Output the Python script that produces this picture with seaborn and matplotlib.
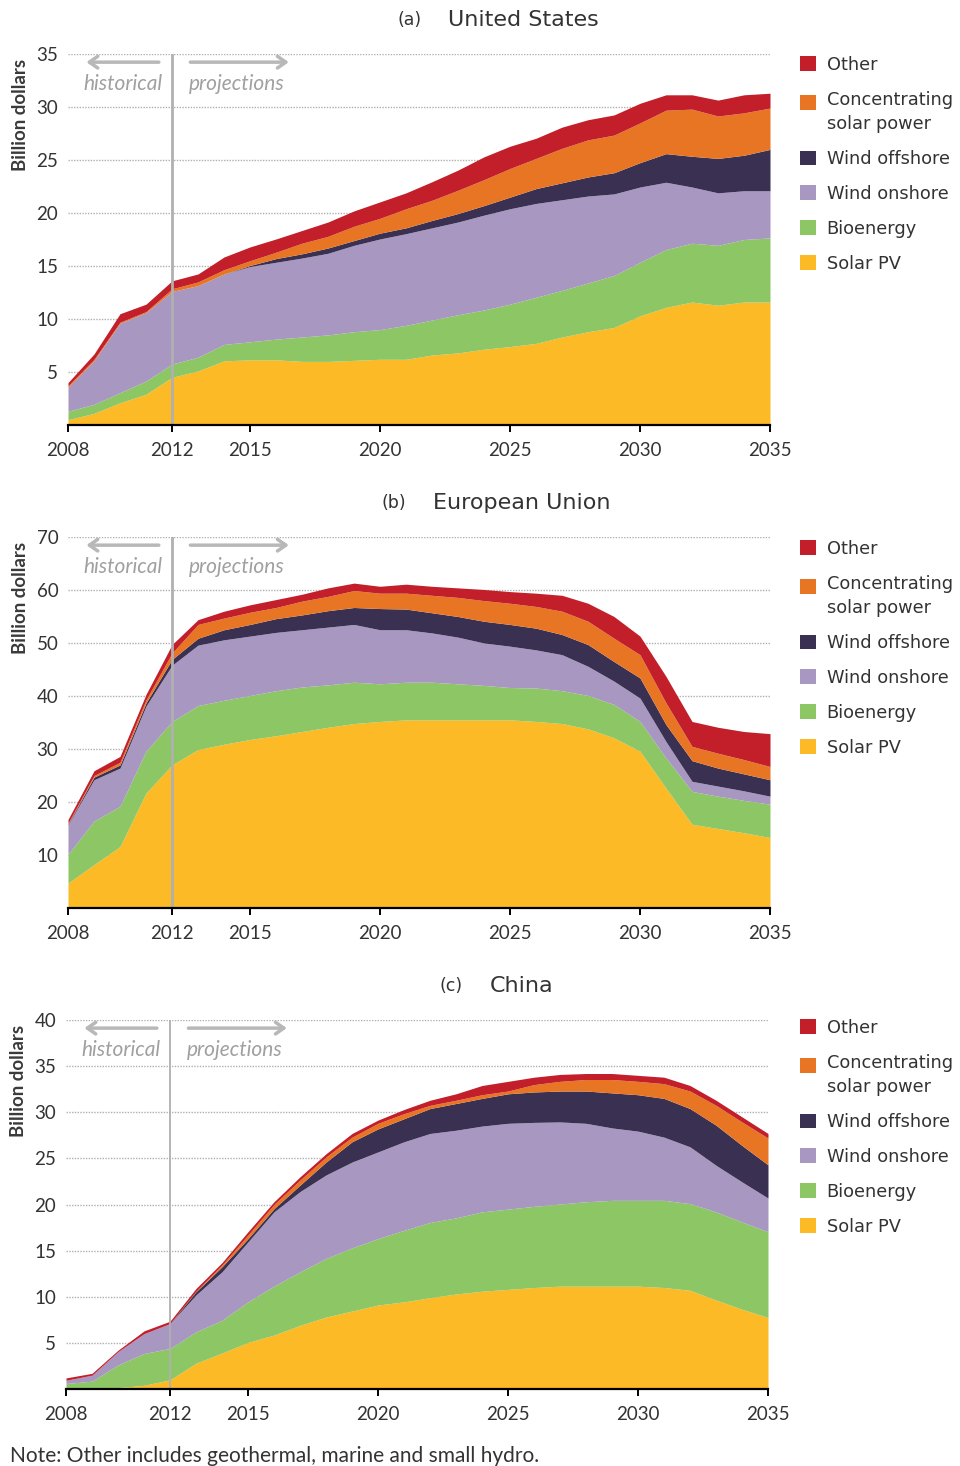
import numpy as np
import pandas as pd
import matplotlib
matplotlib.use("Agg")
import matplotlib.pyplot as plt
from matplotlib.patches import Patch, Rectangle
from matplotlib.legend_handler import HandlerPatch
import seaborn as sns

years = list(range(2008, 2036))
series_names = ["Solar PV", "Bioenergy", "Wind onshore", "Wind offshore",
                "Concentrating\nsolar power", "Other"]
colors = ["#FBBA26", "#8CC665", "#A897C0", "#3A3152", "#E87524", "#C31F2A"]

# ---- United States (billion dollars) ----
us_solar = [0.5, 1.1, 2.1, 2.9, 4.5, 5.1, 6.05, 6.15, 6.15, 6.0, 6.0, 6.1, 6.2, 6.2,
            6.6, 6.8, 7.15, 7.4, 7.7, 8.3, 8.8, 9.2, 10.3, 11.1, 11.6, 11.3, 11.6, 11.6]
us_bio = [0.8, 0.85, 0.95, 1.25, 1.25, 1.3, 1.55, 1.7, 1.95, 2.3, 2.5, 2.7, 2.8, 3.2,
          3.3, 3.6, 3.7, 4.0, 4.35, 4.4, 4.6, 4.9, 5.05, 5.45, 5.55, 5.65, 5.9, 6.05]
us_onshore = [2.25, 4.1, 6.55, 6.45, 6.85, 6.75, 6.65, 7.1, 7.25, 7.45, 7.7, 8.15, 8.55, 8.65,
              8.7, 8.75, 8.95, 9.0, 8.85, 8.55, 8.2, 7.7, 7.1, 6.35, 5.3, 4.95, 4.6, 4.45]
us_offshore = [0, 0, 0, 0, 0, 0, 0, 0.1, 0.35, 0.4, 0.5, 0.45, 0.55, 0.55,
               0.7, 0.8, 0.9, 1.1, 1.4, 1.6, 1.8, 2.0, 2.3, 2.7, 2.9, 3.25, 3.35, 3.9]
us_csp = [0.15, 0.15, 0.1, 0.1, 0.25, 0.35, 0.4, 0.45, 0.6, 1.0, 1.1, 1.35, 1.4, 1.8,
          1.9, 2.2, 2.45, 2.7, 2.85, 3.25, 3.5, 3.55, 3.75, 4.1, 4.45, 4.0, 4.0, 3.9]
us_other = [0.3, 0.5, 0.8, 0.7, 0.75, 0.75, 1.2, 1.3, 1.25, 1.2, 1.35, 1.45, 1.55, 1.5,
            1.75, 1.9, 2.15, 2.1, 1.9, 2.0, 1.9, 1.9, 1.85, 1.45, 1.35, 1.5, 1.7, 1.4]

# ---- European Union ----
eu_solar = [4.7, 8.2, 11.6, 21.7, 27.0, 29.9, 30.9, 31.8, 32.5, 33.3, 34.1, 34.8, 35.2, 35.5,
            35.5, 35.5, 35.5, 35.5, 35.2, 34.8, 33.8, 32.1, 29.6, 22.6, 15.8, 15.0, 14.2, 13.3]
eu_bio = [5.4, 8.2, 7.6, 7.9, 8.2, 8.3, 8.3, 8.3, 8.5, 8.4, 8.0, 7.8, 7.1, 7.1,
          7.1, 6.8, 6.5, 6.1, 6.3, 6.2, 6.3, 6.3, 5.6, 5.7, 6.2, 6.1, 6.1, 6.3]
eu_onshore = [5.6, 7.8, 7.2, 8.5, 10.6, 11.4, 11.4, 11.2, 11.0, 10.8, 10.9, 10.9, 10.2, 9.9,
              9.3, 8.8, 8.0, 7.8, 7.2, 6.8, 5.5, 4.4, 4.4, 3.1, 1.9, 1.9, 1.8, 1.5]
eu_offshore = [0.15, 0.5, 0.6, 0.6, 1.1, 1.3, 1.9, 2.2, 2.6, 2.8, 3.1, 3.2, 4.0, 3.9,
               3.8, 3.9, 4.1, 4.1, 4.1, 3.8, 4.1, 3.7, 3.8, 3.2, 3.9, 3.4, 3.2, 3.1]
eu_csp = [0.15, 0.3, 0.5, 0.6, 1.2, 2.6, 2.2, 2.3, 2.1, 2.6, 2.7, 3.2, 2.9, 3.0,
          3.3, 3.6, 3.9, 4.0, 4.1, 4.4, 4.4, 4.4, 4.4, 4.1, 2.7, 2.8, 2.7, 2.5]
eu_other = [0.7, 0.9, 1.1, 1.0, 1.6, 0.9, 1.3, 1.4, 1.5, 1.3, 1.6, 1.4, 1.3, 1.7,
            1.7, 1.8, 2.1, 2.2, 2.5, 3.0, 3.4, 4.1, 3.5, 5.0, 4.7, 4.9, 5.3, 6.2]

# ---- China ----
cn_solar = [0.05, 0.05, 0.15, 0.4, 1.0, 2.8, 3.9, 5.05, 5.85, 6.9, 7.8, 8.45, 9.1, 9.45,
            9.9, 10.3, 10.6, 10.8, 11.0, 11.15, 11.15, 11.15, 11.15, 11.0, 10.7, 9.65, 8.65, 7.75]
cn_bio = [0.55, 0.8, 2.45, 3.45, 3.4, 3.4, 3.55, 4.4, 5.3, 5.8, 6.35, 6.85, 7.2, 7.75,
          8.15, 8.25, 8.6, 8.7, 8.8, 8.9, 9.15, 9.3, 9.3, 9.45, 9.4, 9.55, 9.45, 9.3]
cn_onshore = [0.35, 0.65, 1.45, 2.15, 2.7, 4.0, 5.25, 6.5, 8.05, 8.7, 9.05, 9.3, 9.4, 9.6,
              9.65, 9.5, 9.3, 9.3, 9.1, 8.9, 8.5, 7.85, 7.5, 6.85, 6.15, 5.05, 4.35, 3.65]
cn_offshore = [0, 0, 0, 0, 0, 0.35, 0.55, 0.35, 0.35, 0.7, 1.4, 2.2, 2.5, 2.5,
               2.7, 2.9, 3.0, 3.2, 3.3, 3.35, 3.5, 3.8, 3.95, 4.2, 4.15, 4.35, 3.95, 3.6]
cn_csp = [0, 0, 0, 0, 0, 0.05, 0.2, 0.4, 0.45, 0.55, 0.55, 0.5, 0.6, 0.55,
          0.35, 0.35, 0.4, 0.3, 0.8, 1.05, 1.25, 1.45, 1.45, 1.6, 1.9, 2.15, 2.55, 2.9]
cn_other = [0.25, 0.2, 0.15, 0.3, 0.25, 0.3, 0.25, 0.35, 0.3, 0.35, 0.35, 0.4, 0.35, 0.45,
            0.55, 0.7, 1.0, 1.05, 0.8, 0.75, 0.65, 0.65, 0.65, 0.7, 0.6, 0.55, 0.55, 0.5]

panels = [
    ("(a)", "United States", [us_solar, us_bio, us_onshore, us_offshore, us_csp, us_other],
     35, [5, 10, 15, 20, 25, 30, 35]),
    ("(b)", "European Union", [eu_solar, eu_bio, eu_onshore, eu_offshore, eu_csp, eu_other],
     70, [10, 20, 30, 40, 50, 60, 70]),
    ("(c)", "China", [cn_solar, cn_bio, cn_onshore, cn_offshore, cn_csp, cn_other],
     40, [5, 10, 15, 20, 25, 30, 35, 40]),
]
xticks = [2008, 2012, 2015, 2020, 2025, 2030, 2035]

sns.set_theme(style="white")
plt.rcParams["font.family"] = ["Lato", "DejaVu Sans"]


def top_square(legend, orig_handle, xdescent, ydescent, width, height, fontsize):
    # square aligned with the first line of a two-line label
    return Rectangle((-xdescent, -ydescent + 0.72 * height), width, height)


W, H = 960, 1466
fig = plt.figure(figsize=(W / 100, H / 100), dpi=100)

# pixel geometry of each panel: (left, right, top, bottom, title y, letter x, name x, legend top)
geo = [
    (68, 770, 54, 425, 20, 410, 523, 56),
    (68, 770, 537, 908, 503, 394, 522, 540),
    (66, 768, 1020, 1389, 986, 451, 522, 1019),
]
txt = "#333333"
for (letter, name, vals, ymax, yt), (l, r, t, b, ty, lx, nx, legt) in zip(panels, geo):
    ax = fig.add_axes([l / W, 1 - b / H, (r - l) / W, (b - t) / H])
    ax.set_axisbelow(True)
    ax.stackplot(years, *[np.array(v) for v in vals], colors=colors,
                 linewidth=0, zorder=2)
    ax.set_xlim(2008, 2035)
    ax.set_ylim(0, ymax)
    ax.set_yticks(yt)
    ax.set_xticks(xticks)
    for yv in yt:
        ax.axhline(yv, color="#b0b0b0", lw=1.0, ls=(0, (1, 1)), zorder=0.5)
    for s in ["top", "right", "left"]:
        ax.spines[s].set_visible(False)
    ax.spines["bottom"].set_color("black")
    ax.spines["bottom"].set_linewidth(1.6)
    ax.spines["bottom"].set_zorder(4)
    ax.tick_params(axis="x", direction="out", length=5, width=1.4, color="black",
                   labelsize=13.5, labelcolor=txt, pad=7, bottom=True)
    ax.tick_params(axis="y", length=0, labelsize=13.5, labelcolor=txt, pad=7)
    ax.axvline(2012, color="#b0b0b0", lw=2.0 if letter != "(c)" else 1.3, zorder=3)
    ax.text(-0.068, 0.835, "Billion dollars", rotation=90, transform=ax.transAxes,
            ha="center", va="center", fontsize=13.5, fontweight="bold", color="#3a3a3a")
    tr = ax.get_xaxis_transform()
    ax.annotate("", xy=(2008.6, 0.978), xytext=(2011.6, 0.978), xycoords=tr,
                arrowprops=dict(arrowstyle="->,head_length=0.5,head_width=0.35",
                                color="#b8b8b8", lw=2.5), zorder=5)
    ax.annotate("", xy=(2016.6, 0.978), xytext=(2012.6, 0.978), xycoords=tr,
                arrowprops=dict(arrowstyle="->,head_length=0.5,head_width=0.35",
                                color="#b8b8b8", lw=2.5), zorder=5)
    ax.text(2010.1, 0.918, "historical", transform=tr, ha="center", va="center",
            style="italic", fontsize=15, color="#a0a0a0", zorder=5)
    ax.text(2014.5, 0.918, "projections", transform=tr, ha="center", va="center",
            style="italic", fontsize=15, color="#a0a0a0", zorder=5)

    fig.text(lx / W, 1 - ty / H, letter, ha="center", va="center", fontsize=12.5,
             color=txt, family="DejaVu Sans")
    fig.text(nx / W, 1 - ty / H, name, ha="center", va="center", fontsize=16,
             color=txt, family="DejaVu Sans")

    handles = [Patch(facecolor=c, edgecolor="none") for c in colors[::-1]]
    hmap = {handles[1]: HandlerPatch(patch_func=top_square)}
    leg = fig.legend(handles, series_names[::-1], loc="upper left",
                     bbox_to_anchor=(800 / W, 1 - legt / H), frameon=False,
                     prop={"family": "DejaVu Sans", "size": 12.8},
                     handlelength=0.9, handleheight=0.9, handletextpad=0.6,
                     labelspacing=0.95, labelcolor=txt, borderpad=0, borderaxespad=0,
                     handler_map=hmap)
    for t_ in leg.get_texts():
        t_.set_linespacing(1.45)

fig.text(10 / W, 1 - 1456 / H, "Note: Other includes geothermal, marine and small hydro.",
         ha="left", va="center", fontsize=15, color=txt)

fig.savefig("out.png", dpi=100)
